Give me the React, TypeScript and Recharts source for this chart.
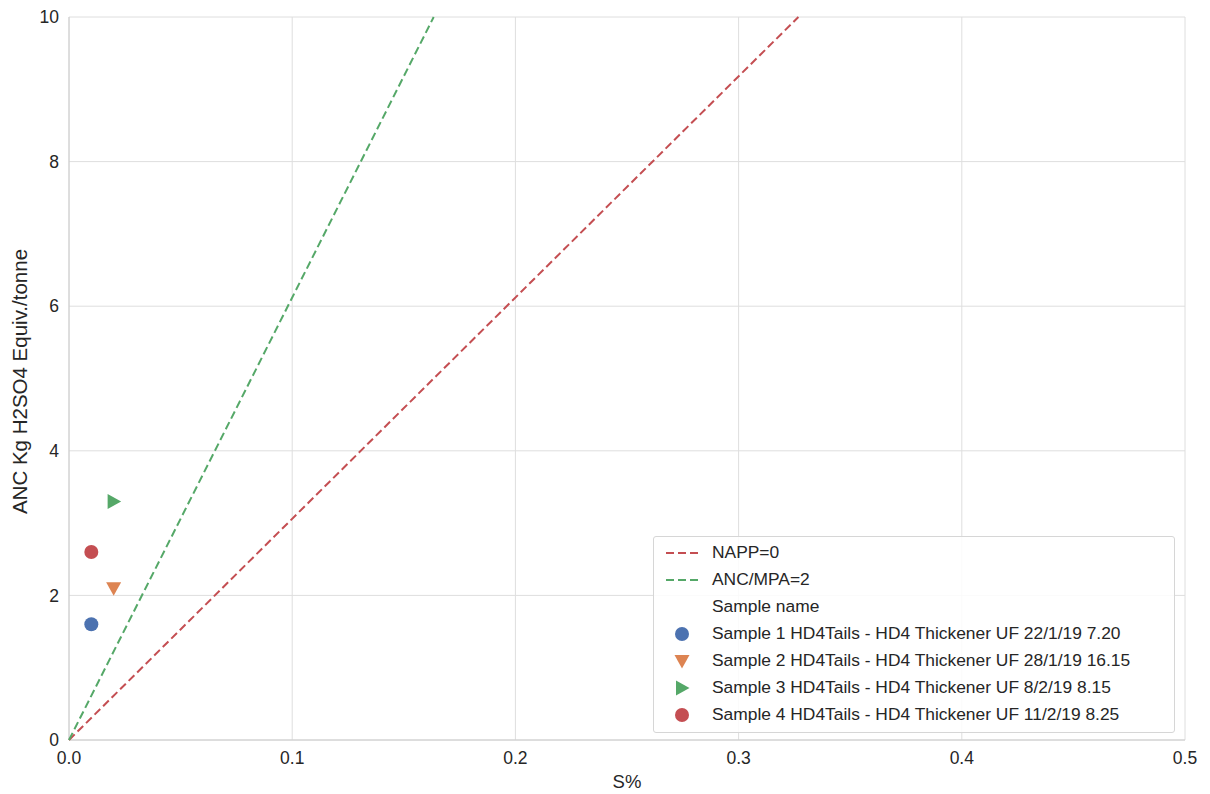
import {
  ScatterChart,
  Scatter,
  XAxis,
  YAxis,
  CartesianGrid,
  Legend,
} from "recharts";

const S_TICKS = [0, 0.1, 0.2, 0.3, 0.4, 0.5];
const ANC_TICKS = [0, 2, 4, 6, 8, 10];

// criterion lines, end points read where they leave the top of the plot
const NAPP_LINE = [
  { s: 0, anc: 0 },
  { s: 0.3268, anc: 10 },
];
const ANC_MPA_LINE = [
  { s: 0, anc: 0 },
  { s: 0.1634, anc: 10 },
];

const SAMPLE_NAMES = [
  "Sample 1 HD4Tails - HD4 Thickener UF 22/1/19 7.20",
  "Sample 2 HD4Tails - HD4 Thickener UF 28/1/19 16.15",
  "Sample 3 HD4Tails - HD4 Thickener UF 8/2/19 8.15",
  "Sample 4 HD4Tails - HD4 Thickener UF 11/2/19 8.25",
];
const SAMPLE_S = [0.01, 0.02, 0.02, 0.01];
const SAMPLE_ANC = [1.6, 2.1, 3.3, 2.6];
const SAMPLE_COLORS = ["#4c72b0", "#dd8452", "#55a868", "#c44e52"];
const SAMPLE_MARKERS = ["circle", "down", "right", "circle"];

const NAPP_COLOR = "#c44e52";
const ANC_MPA_COLOR = "#55a868";
const TEXT = "#262626";
const FONT = "'Liberation Sans', Arial, sans-serif";

function Marker({ kind, cx, cy, fill }: { kind: string; cx: number; cy: number; fill: string }) {
  if (kind === "down") {
    return (
      <polygon
        points={`${cx - 7.5},${cy - 6} ${cx + 7.5},${cy - 6} ${cx},${cy + 7.5}`}
        fill={fill}
      />
    );
  }
  if (kind === "right") {
    return (
      <polygon
        points={`${cx - 6},${cy - 7.5} ${cx - 6},${cy + 7.5} ${cx + 7.5},${cy}`}
        fill={fill}
      />
    );
  }
  return <circle cx={cx} cy={cy} r={7} fill={fill} />;
}

function LegendBox() {
  const row = { display: "flex", alignItems: "center", height: 27 } as const;
  const keyCell = { width: 58, display: "flex", justifyContent: "center" } as const;
  return (
    <div
      style={{
        background: "rgba(255,255,255,0.85)",
        border: "1px solid #d6d6d6",
        borderRadius: 3,
        padding: "2px 0 4px 0",
        fontSize: 17.4,
        color: TEXT,
        fontFamily: FONT,
      }}
    >
      <div style={row}>
        <div style={keyCell}>
          <svg width={34} height={6}>
            <line x1={0} y1={3} x2={34} y2={3} stroke={NAPP_COLOR} strokeWidth={2} strokeDasharray="8 4" />
          </svg>
        </div>
        <span>NAPP=0</span>
      </div>
      <div style={row}>
        <div style={keyCell}>
          <svg width={34} height={6}>
            <line x1={0} y1={3} x2={34} y2={3} stroke={ANC_MPA_COLOR} strokeWidth={2} strokeDasharray="8 4" />
          </svg>
        </div>
        <span>ANC/MPA=2</span>
      </div>
      <div style={row}>
        <div style={keyCell} />
        <span>Sample name</span>
      </div>
      {SAMPLE_NAMES.map((name, i) => (
        <div style={row} key={name}>
          <div style={{ ...keyCell, justifyContent: "flex-start", paddingLeft: 18, width: 40 }}>
            <svg width={20} height={20}>
              <Marker kind={SAMPLE_MARKERS[i]} cx={10} cy={10} fill={SAMPLE_COLORS[i]} />
            </svg>
          </div>
          <span>{name}</span>
        </div>
      ))}
    </div>
  );
}

const tickStyle = { fill: TEXT, fontSize: 17.5, fontFamily: FONT };

export default function App() {
  return (
    <div style={{ width: 1210, height: 794, background: "#fff", fontFamily: FONT, overflow: "hidden" }}>
      <style>{"body { margin: 0; overflow: hidden; }"}</style>
      <ScatterChart
        width={1210}
        height={794}
        margin={{ top: 17, right: 25, bottom: 0, left: 0 }}
      >
        <CartesianGrid stroke="#dedede" strokeWidth={1} />
        <XAxis
          type="number"
          dataKey="s"
          domain={[0, 0.5]}
          ticks={S_TICKS}
          tickFormatter={(v: number) => v.toFixed(1)}
          tickLine={false}
          axisLine={{ stroke: "#cccccc" }}
          tick={tickStyle}
          tickMargin={6}
          height={54}
          label={(props: any) => {
            const vb = props.viewBox;
            return (
              <text
                x={vb.x + vb.width / 2}
                y={788}
                textAnchor="middle"
                fill={TEXT}
                style={{ fontSize: 18.5, fontFamily: FONT }}
              >
                S%
              </text>
            );
          }}
        />
        <YAxis
          type="number"
          dataKey="anc"
          domain={[0, 10]}
          ticks={ANC_TICKS}
          tickLine={false}
          axisLine={{ stroke: "#cccccc" }}
          tick={tickStyle}
          tickMargin={4}
          width={69}
          label={(props: any) => {
            const vb = props.viewBox;
            const cy = vb.y + vb.height / 2 + 3;
            return (
              <text
                x={27}
                y={cy}
                transform={`rotate(-90, 27, ${cy})`}
                textAnchor="middle"
                fill={TEXT}
                style={{ fontSize: 20.5, fontFamily: FONT }}
              >
                ANC Kg H2SO4 Equiv./tonne
              </text>
            );
          }}
        />
        <Legend
          layout="horizontal"
          verticalAlign="middle"
          align="center"
          wrapperStyle={{ left: 653, top: 536, width: 522 }}
          content={() => <LegendBox />}
        />
        <Scatter
          name="NAPP=0"
          data={NAPP_LINE}
          fill={NAPP_COLOR}
          line={{ stroke: NAPP_COLOR, strokeWidth: 2, strokeDasharray: "8 4" }}
          shape={() => <g />}
          isAnimationActive={false}
        />
        <Scatter
          name="ANC/MPA=2"
          data={ANC_MPA_LINE}
          fill={ANC_MPA_COLOR}
          line={{ stroke: ANC_MPA_COLOR, strokeWidth: 2, strokeDasharray: "8 4" }}
          shape={() => <g />}
          isAnimationActive={false}
        />
        {SAMPLE_NAMES.map((name, i) => (
          <Scatter
            key={name}
            name={name}
            data={[{ s: SAMPLE_S[i], anc: SAMPLE_ANC[i] }]}
            fill={SAMPLE_COLORS[i]}
            shape={(p: any) => (
              <Marker kind={SAMPLE_MARKERS[i]} cx={p.cx} cy={p.cy} fill={SAMPLE_COLORS[i]} />
            )}
            isAnimationActive={false}
          />
        ))}
      </ScatterChart>
    </div>
  );
}
